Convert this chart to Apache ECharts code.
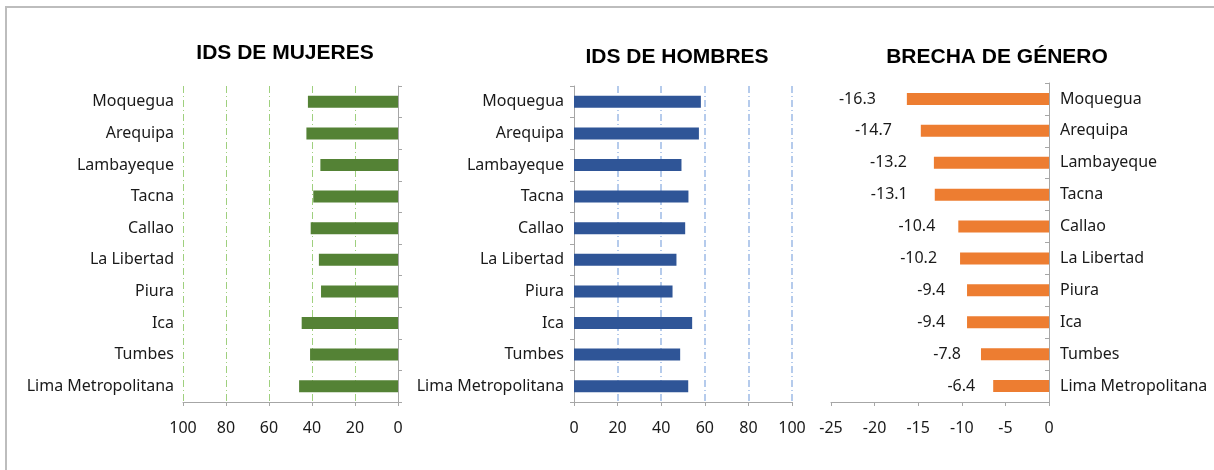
<!DOCTYPE html>
<html>
<head>
<meta charset="utf-8">
<script src="https://cdn.jsdelivr.net/npm/echarts@6/dist/echarts.min.js"></script>
<style>
  html, body { margin: 0; padding: 0; background: #fff; }
  #frame {
    position: absolute; left: 5px; top: 6px;
    width: 1300px; height: 600px;
    border-left: 2px solid #bdbdbd; border-top: 2px solid #bdbdbd;
  }
  #chart { position: absolute; left: 0; top: 0; width: 1214px; height: 470px; }
</style>
</head>
<body>
<div id="frame"></div>
<div id="chart"></div>
<script>
// regiones (de arriba hacia abajo)
const categories = ['Moquegua', 'Arequipa', 'Lambayeque', 'Tacna', 'Callao',
  'La Libertad', 'Piura', 'Ica', 'Tumbes', 'Lima Metropolitana'];
const idsMujeres = [41.9, 42.6, 36.1, 39.4, 40.6, 36.8, 35.8, 44.8, 40.9, 46.0];
const idsHombres = [58.2, 57.3, 49.3, 52.5, 51.0, 47.0, 45.2, 54.2, 48.7, 52.4];
const brecha = [-16.3, -14.7, -13.2, -13.1, -10.4, -10.2, -9.4, -9.4, -7.8, -6.4];
const titles = ['IDS DE MUJERES', 'IDS DE HOMBRES', 'BRECHA DE GÉNERO'];

const FONT = 'Noto Sans';
const TXT = '#1a1a1a';
const AXIS = '#a6a6a6';

const chart = echarts.init(document.getElementById('chart'));

const labelStyle = { fontFamily: FONT, fontSize: 16, color: TXT };

const option = {
  animation: false,
  graphic: [
    { x: 285, y: 53, text: titles[0] },
    { x: 677, y: 57, text: titles[1] },
    { x: 997, y: 57, text: titles[2] }
  ].map(t => ({
    type: 'text', x: t.x, y: t.y,
    style: {
      text: t.text, fill: '#000',
      font: 'bold 21px "Liberation Sans", Arial, sans-serif',
      align: 'center', verticalAlign: 'middle',
      textAlign: 'center', textVerticalAlign: 'middle'
    }
  })),
  grid: [
    { left: 183, top: 86, width: 215, height: 316 },
    { left: 574, top: 86, width: 218, height: 316 },
    { left: 831, top: 83, width: 218, height: 319 }
  ],
  xAxis: [
    {
      gridIndex: 0, type: 'value', min: 0, max: 100, interval: 20, inverse: true,
      axisLine: { show: true, lineStyle: { color: AXIS } },
      axisTick: { show: true, length: 4, lineStyle: { color: AXIS } },
      axisLabel: Object.assign({ margin: 18 }, labelStyle),
      splitLine: { show: true, showMinLine: false,
        lineStyle: { color: '#9fd07e', width: 1, type: [7, 3, 1, 3] } }
    },
    {
      gridIndex: 1, type: 'value', min: 0, max: 100, interval: 20,
      axisLine: { show: true, lineStyle: { color: AXIS } },
      axisTick: { show: true, length: 4, lineStyle: { color: AXIS } },
      axisLabel: Object.assign({ margin: 18 }, labelStyle),
      splitLine: { show: true, showMinLine: false,
        lineStyle: { color: '#9dbbe6', width: 1.5, type: [7, 3, 1, 3] } }
    },
    {
      gridIndex: 2, type: 'value', min: -25, max: 0, interval: 5,
      axisLine: { show: true, onZero: false, lineStyle: { color: AXIS } },
      axisTick: { show: true, length: 4, lineStyle: { color: AXIS } },
      axisLabel: Object.assign({ margin: 18 }, labelStyle),
      splitLine: { show: false }
    }
  ],
  yAxis: [
    // panel 1: etiquetas a la izquierda, línea del eje a la derecha
    {
      gridIndex: 0, type: 'category', data: categories, inverse: true, position: 'left',
      axisLine: { show: false }, axisTick: { show: false },
      axisLabel: Object.assign({ margin: 9 }, labelStyle)
    },
    {
      gridIndex: 0, type: 'category', data: categories, inverse: true, position: 'right',
      axisLine: { show: true, onZero: false, lineStyle: { color: AXIS } },
      axisTick: { show: true, length: 4, lineStyle: { color: AXIS } },
      axisLabel: { show: false }
    },
    {
      gridIndex: 1, type: 'category', data: categories, inverse: true, position: 'left',
      axisLine: { show: true, onZero: false, lineStyle: { color: AXIS } },
      axisTick: { show: true, length: 4, lineStyle: { color: AXIS } },
      axisLabel: Object.assign({ margin: 10 }, labelStyle)
    },
    {
      gridIndex: 2, type: 'category', data: categories, inverse: true, position: 'right',
      axisLine: { show: true, onZero: false, lineStyle: { color: AXIS } },
      axisTick: { show: true, inside: true, length: 4, lineStyle: { color: AXIS } },
      axisLabel: Object.assign({ margin: 11, align: 'left' }, labelStyle)
    }
  ],
  series: [
    {
      type: 'bar', xAxisIndex: 0, yAxisIndex: 1, data: idsMujeres,
      barWidth: 12, itemStyle: { color: '#548235' }
    },
    {
      type: 'bar', xAxisIndex: 1, yAxisIndex: 2, data: idsHombres,
      barWidth: 12, itemStyle: { color: '#2f5597' }
    },
    {
      type: 'bar', xAxisIndex: 2, yAxisIndex: 3, barWidth: 12,
      itemStyle: { color: '#ed7d31' },
      data: brecha.map(v => ({
        value: v,
        label: { distance: Math.round(10 + 1.28 * Math.abs(v)) }
      })),
      label: Object.assign({ show: true, position: 'left' }, labelStyle)
    }
  ]
};

chart.setOption(option);
</script>
</body>
</html>
